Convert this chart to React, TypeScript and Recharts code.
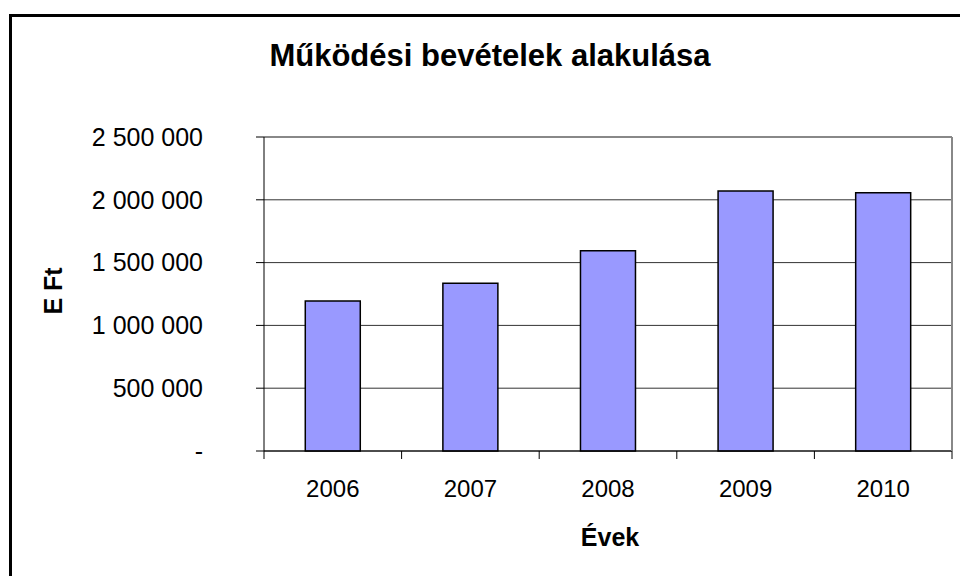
import { BarChart, Bar, XAxis, YAxis, CartesianGrid, ReferenceLine } from 'recharts';

const years = ['2006', '2007', '2008', '2009', '2010'];
const revenues = [1195000, 1335000, 1595000, 2070000, 2057000];
const yTicks = [0, 500000, 1000000, 1500000, 2000000, 2500000];

const data = years.map((year, i) => ({ year, value: revenues[i] }));

const font = '"Liberation Sans", Arial, sans-serif';

const formatHuf = (v: number) =>
  v === 0 ? '-' : String(v).replace(/\B(?=(\d{3})+(?!\d))/g, ' ');

// category label plus Excel-style tick marks on the category boundaries
function YearTick(props: any) {
  const { x, y, payload, index, visibleTicksCount, width } = props;
  const band = payload?.offset ? payload.offset * 2 : width / visibleTicksCount;
  const axisY = y - 29;
  const left = x - band / 2;
  return (
    <g>
      <line x1={left} y1={axisY} x2={left} y2={axisY + 8} stroke="#000" />
      {index === visibleTicksCount - 1 && (
        <line x1={left + band} y1={axisY} x2={left + band} y2={axisY + 8} stroke="#000" />
      )}
      <text x={x} y={y} dy="0.71em" textAnchor="middle" fontSize={24} fontFamily={font} fill="#000">
        {payload.value}
      </text>
    </g>
  );
}

export default function App() {
  return (
    <div style={{ position: 'absolute', left: 0, top: 0, width: 960, height: 576, overflow: 'hidden', background: '#fff' }}>
      <div
        style={{
          position: 'absolute', left: 9, top: 14, width: 1000, height: 700,
          border: '3px solid #000', boxSizing: 'border-box',
        }}
      />
      <div
        style={{
          position: 'absolute', left: 0, top: 40, width: 980, textAlign: 'center',
          fontFamily: font, fontWeight: 'bold', fontSize: 31, lineHeight: '31px', color: '#000',
        }}
      >
        Működési bevételek alakulása
      </div>
      <div style={{ position: 'absolute', left: 0, top: 0 }}>
        <BarChart
          width={960}
          height={576}
          data={data}
          margin={{ top: 137, right: 0, left: 0, bottom: 0 }}
          barCategoryGap="30%"
        >
          <CartesianGrid vertical={false} stroke="#333" />
          <XAxis
            dataKey="year"
            height={125}
            stroke="#000"
            tickSize={8}
            tickMargin={21}
            tickLine={false}
            tick={<YearTick />}
            label={{
              content: (p: any) => (
                <text
                  x={p.viewBox.x + p.viewBox.width / 2 + 2}
                  y={p.viewBox.y + 95}
                  textAnchor="middle"
                  fontSize={25}
                  fontWeight="bold"
                  fontFamily={font}
                  fill="#000"
                >
                  Évek
                </text>
              ),
            }}
          />
          <YAxis
            width={264}
            domain={[0, 2500000]}
            ticks={yTicks}
            interval={0}
            tickFormatter={formatHuf}
            stroke="#000"
            tickSize={8}
            tickMargin={53}
            tick={{ fontSize: 25, fontFamily: font, fill: '#000' }}
            label={{
              content: (p: any) => {
                const cx = p.viewBox.x + 53;
                const cy = p.viewBox.y + p.viewBox.height / 2 - 3;
                return (
                  <text
                    x={cx}
                    y={cy}
                    transform={`rotate(-90 ${cx} ${cy})`}
                    textAnchor="middle"
                    dominantBaseline="central"
                    fontSize={25}
                    fontWeight="bold"
                    fontFamily={font}
                    fill="#000"
                  >
                    E Ft
                  </text>
                );
              },
            }}
          />
          <YAxis
            yAxisId="frame"
            orientation="right"
            width={8}
            tick={false}
            tickLine={false}
            axisLine={{ stroke: '#888', strokeWidth: 2 }}
          />
          <ReferenceLine y={2500000} stroke="#888" strokeWidth={2} />
          <Bar dataKey="value" fill="#9999FF" stroke="#000" strokeWidth={1.5} isAnimationActive={false} />
        </BarChart>
      </div>
    </div>
  );
}
